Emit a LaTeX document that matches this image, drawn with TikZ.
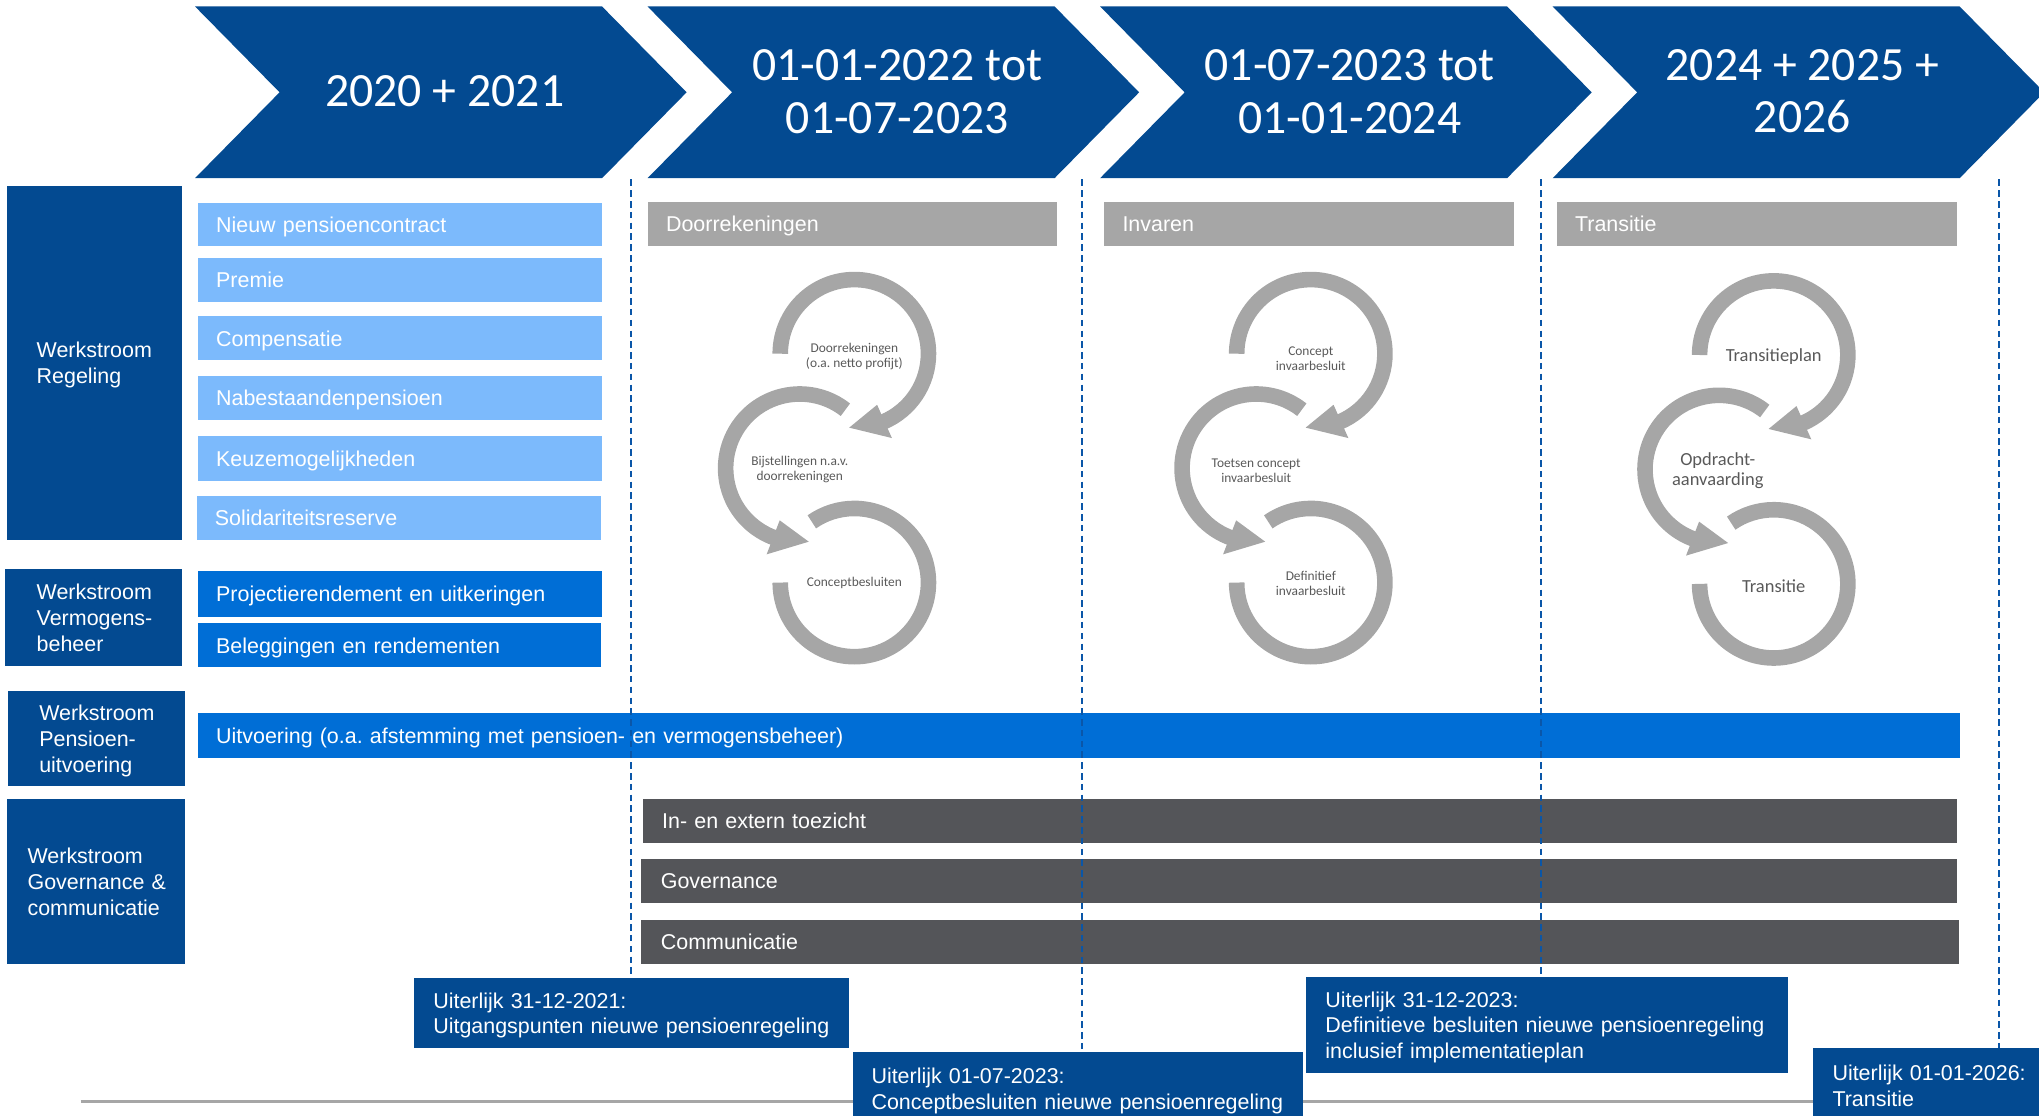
\documentclass[tikz,border=0pt]{standalone}
\usepackage{fontspec}
\setmainfont{Liberation Sans}
\newfontfamily\calfont{Carlito}
\frenchspacing
\definecolor{dblue}{RGB}{3,74,145}
\definecolor{lblue}{RGB}{124,186,252}
\definecolor{mblue}{RGB}{0,110,214}
\definecolor{lgray}{RGB}{166,166,166}
\definecolor{dgray}{RGB}{84,85,89}
\definecolor{ctext}{RGB}{89,89,89}
\definecolor{dashblue}{RGB}{10,86,168}
\newcommand{\ringgroup}[1]{%
  \coordinate (#1T) at (0,0);
  \coordinate (#1M) at (-42,88);
  \coordinate (#1B) at (0,176);
  \draw[ring] ([shift={(180:57pt)}]#1B) arc[start angle=180, end angle=485, radius=57pt];
  \draw[ring] ([shift={(52:57pt)}]#1M) arc[start angle=52, end angle=250, radius=57pt];
  \fill[lgray] ([shift={(249:43pt)}]#1M) -- ([shift={(249:71pt)}]#1M) -- ([shift={(277:57pt)}]#1M) -- cycle;
  \draw[ring] ([shift={(180:57pt)}]#1T) arc[start angle=180, end angle=-67, radius=57pt];
  \fill[lgray] ([shift={(-66:43pt)}]#1T) -- ([shift={(-66:71pt)}]#1T) -- ([shift={(-94:57pt)}]#1T) -- cycle;
}
\begin{document}
\begin{tikzpicture}[x=1pt,y=-1pt,
  txt/.style={execute at begin node={\rule{0pt}{16pt}}, execute at end node={\rule[-4pt]{0pt}{0pt}}},
  barbox/.style={txt, anchor=north west, inner xsep=14pt, inner ysep=0pt, align=left, text=white,
    font=\fontsize{16.5}{20}\selectfont, minimum height=34pt},
  wsbox/.style={txt, anchor=north west, fill=dblue, text=white, align=left, inner ysep=0pt,
    font=\fontsize{16.5}{20}\selectfont},
  msbox/.style={txt, anchor=north west, fill=dblue, text=white, align=left, inner ysep=0pt, inner xsep=15pt,
    font=\fontsize{16.5}{19.7}\selectfont},
  chevtext/.style={text=white, font=\calfont\fontsize{36.7}{40}\selectfont, align=center},
  ring/.style={draw=lgray, line width=12pt},
  clabel/.style={text=ctext, font=\calfont\fontsize{10.3}{11.5}\selectfont, align=center, inner sep=0pt},
  clabelbig/.style={text=ctext, font=\calfont\fontsize{14.2}{16}\selectfont, align=center, inner sep=0pt},
  dashline/.style={draw=dashblue, line width=1.6pt, dash pattern=on 5pt off 3.3pt},
  hline/.style={draw=lgray, line width=2pt}]
\useasboundingbox (0,0) rectangle (1568,858);
\clip (0,0) rectangle (1568,858);

% chevrons
\foreach \L in {150,498,846,1194}{
  \fill[dblue] (\L,5) -- (\L+313,5) -- (\L+378,71) -- (\L+313,137) -- (\L,137) -- (\L+65,71) -- cycle;
}
\node[chevtext] (ch1) at (342,70) {2020 + 2021};
\node[chevtext] (ch2) at (690,70.5) {01-01-2022 tot\\01-07-2023};
\node[chevtext] (ch3) at (1038,70.5) {01-07-2023 tot\\01-01-2024};
\node[chevtext] (ch4) at (1386,70.5) {2024 + 2025 +\\2026};

% werkstroom boxes
\node[wsbox, minimum width=135pt, minimum height=272pt, inner xsep=23pt, text width=89pt] (ws1) at (5,143) {Werkstroom\\Regeling};
\node[wsbox, minimum width=136pt, minimum height=75pt, inner xsep=24pt, text width=88pt] (ws2) at (4,437) {Werkstroom\\\mbox{Vermogens-}\\beheer};
\node[wsbox, minimum width=136pt, minimum height=73pt, inner xsep=24pt, text width=88pt] (ws3) at (6,531) {Werkstroom\\\mbox{Pensioen-}\\uitvoering};
\node[wsbox, minimum width=137pt, minimum height=127pt, inner xsep=16pt, text width=105pt] (ws4) at (5,614) {Werkstroom\\Governance~\&\\communicatie};

% light blue bars
\node[barbox, fill=lblue, text width=283pt, minimum height=33pt] (r1) at (152,156) {Nieuw pensioencontract};
\node[barbox, fill=lblue, text width=283pt] (r2) at (152,198) {Premie};
\node[barbox, fill=lblue, text width=283pt] (r3) at (152,243) {Compensatie};
\node[barbox, fill=lblue, text width=283pt] (r4) at (152,289) {Nabestaandenpensioen};
\node[barbox, fill=lblue, text width=283pt, minimum height=35pt] (r5) at (152,335) {Keuzemogelijkheden};
\node[barbox, fill=lblue, text width=283pt] (r6) at (151,381) {Solidariteitsreserve};

% medium blue bars
\node[barbox, fill=mblue, text width=283pt, minimum height=35pt] (v1) at (152,439) {Projectierendement en uitkeringen};
\node[barbox, fill=mblue, text width=282pt] (v2) at (152,479) {Beleggingen en rendementen};
\node[barbox, fill=mblue, text width=1327pt, minimum height=35pt] (u1) at (152,548) {Uitvoering (o.a. afstemming met pensioen- en vermogensbeheer)};

% gray phase bars
\node[barbox, fill=lgray, text width=287pt] (g1) at (498,155) {Doorrekeningen};
\node[barbox, fill=lgray, text width=287pt] (g2) at (849,155) {Invaren};
\node[barbox, fill=lgray, text width=280pt] (g3) at (1197,155) {Transitie};

% dark gray bars
\node[barbox, fill=dgray, inner xsep=15pt, text width=981pt] (d1) at (494,614) {In- en extern toezicht};
\node[barbox, fill=dgray, inner xsep=15pt, text width=982pt] (d2) at (493,660) {Governance};
\node[barbox, fill=dgray, inner xsep=15pt, text width=983pt] (d3) at (493,707) {Communicatie};

% circular arrows
\begin{scope}[shift={(657,272)}]
  \ringgroup{a}
  \node[clabel] (a1) at (0,2) {Doorrekeningen\\(o.a. netto profijt)};
  \node[clabel] (a2) at (-42,89) {Bijstellingen n.a.v.\\doorrekeningen};
  \node[clabel] (a3) at (0,176) {Conceptbesluiten};
\end{scope}
\begin{scope}[shift={(1008,272)}]
  \ringgroup{b}
  \node[clabel] (b1) at (0,4) {Concept\\invaarbesluit};
  \node[clabel] (b2) at (-42,90) {Toetsen concept\\invaarbesluit};
  \node[clabel] (b3) at (0,177) {Definitief\\invaarbesluit};
\end{scope}
\begin{scope}[shift={(1364,273)}]
  \ringgroup{c}
  \node[clabelbig] (c1) at (0,1) {Transitieplan};
  \node[clabelbig] (c2) at (-43,89) {Opdracht-\\aanvaarding};
  \node[clabelbig] (c3) at (0,178) {Transitie};
\end{scope}

% timeline
\coordinate (hlA) at (62,847);
\coordinate (hlB) at (1394,847);
\draw[hline] (hlA) -- (hlB);

% milestones
\node[msbox, minimum width=335pt, minimum height=54pt, text width=305pt] (m1) at (318,752) {Uiterlijk 31-12-2021:\\Uitgangspunten nieuwe pensioenregeling};
\node[msbox, minimum width=346pt, minimum height=56pt, inner xsep=14pt, text width=318pt] (m2) at (656,809) {Uiterlijk 01-07-2023:\\Conceptbesluiten nieuwe pensioenregeling};
\node[msbox, minimum width=371pt, minimum height=74pt, text width=341pt] (m3) at (1004,751) {Uiterlijk 31-12-2023:\\Definitieve besluiten nieuwe pensioenregeling\\inclusief implementatieplan};
\node[msbox, minimum width=180pt, minimum height=57pt, text width=150pt] (m4) at (1394,806) {Uiterlijk 01-01-2026:\\Transitie};

% dashed dividers
\coordinate (dl1) at (485,138);
\coordinate (dl2) at (832,138);
\coordinate (dl3) at (1185,138);
\coordinate (dl4) at (1537,138);
\draw[dashline] (dl1) -- (dl1 |- m1.north);
\draw[dashline] (dl2) -- (dl2 |- m2.north);
\draw[dashline] (dl3) -- (dl3 |- m3.north);
\draw[dashline] (dl4) -- (dl4 |- m4.north);
\end{tikzpicture}
\end{document}
